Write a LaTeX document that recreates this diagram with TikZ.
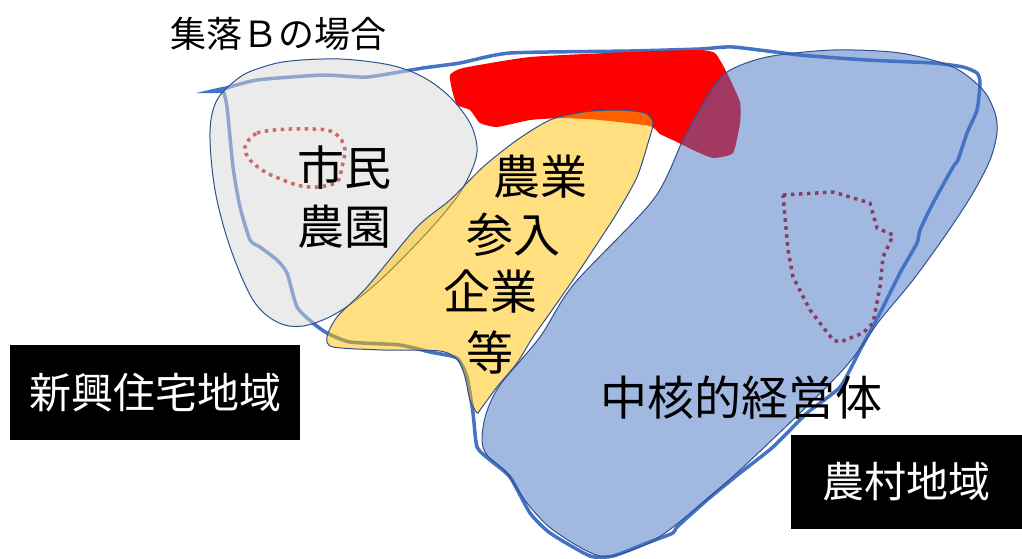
\documentclass[tikz,border=0pt]{standalone}
\usepackage{fontspec}
\newfontfamily\jp{Noto Sans CJK JP}
\definecolor{lineblue}{HTML}{4472C4}
\definecolor{edgeblue}{HTML}{2F528F}
\definecolor{grayfill}{HTML}{D9D9D9}
\definecolor{yelfill}{HTML}{FFC000}
\definecolor{dotred}{HTML}{D06868}
\definecolor{dotmaroon}{HTML}{8B3B62}
\tikzset{
  outline/.style={draw=lineblue, line width=3.5pt, line join=round, line cap=round},
  region/.style={draw=edgeblue, line width=1pt, fill opacity=0.5},
  biglabel/.style={font=\jp\fontsize{47}{56}\selectfont, inner sep=0pt, text=black},
  titlelabel/.style={font=\jp\fontsize{36}{44}\selectfont, inner sep=0pt, text=black},
  blackbox/.style={fill=black, text=white, font=\jp\fontsize{42}{50}\selectfont, inner sep=0pt},
  dotline/.style={line width=3.5pt, dash pattern=on 3.5pt off 4.5pt, line join=round}
}
\begin{document}
\begin{tikzpicture}[x=1pt,y=-1pt]
\useasboundingbox (0,0) rectangle (1022,558);
\fill[white] (0,0) rectangle (1022,558);

% thick hand-drawn outline of the village area
\fill[lineblue] (196,93) -- (224,86.5) -- (224,93) -- cycle;
\draw[outline] plot[smooth, tension=0.35] coordinates {
 (223,89) (257,80) (323,75) (367,77) (423,68) (460,63) (510,53) (630,51) (700,49)
 (733,47) (800,55) (867,60) (933,63) (963,67) (977,73) (980,83) (977,110) (967,133)
 (958,160) (953,167) (933,203) (920,230) (917,243) (900,273) (880,313) (860,350)
 (840,387) (807,413) (773,447) (740,473) (707,500) (677,527) (673,533) (647,543)
 (613,556) (590,556) (550,533) (530,513) (510,477) (490,460) (477,447) (473,413)
 (467,377) (457,358) (430,352) (400,345) (350,342) (327,333) (313,323) (297,307)
 (287,273) (277,260) (260,247) (250,240) (240,207) (233,167) (227,107) (223,89)};

% red band
\fill[red] plot[smooth cycle, tension=0.3] coordinates {
 (463,68) (530,57) (630,52) (697,50) (715,53) (727,73) (740,102) (740,123) (733,153)
 (713,158) (693,150) (677,142) (660,134) (650,126) (600,120) (563,118) (530,120)
 (497,127) (480,123) (470,110) (457,105) (452,90) (450,75)};

% citizen farm region
\path[region, fill=grayfill] plot[smooth cycle, tension=0.55] coordinates {
 (290,61) (340,59) (390,65) (423,77) (450,97) (470,123) (477,147) (473,167) (457,197)
 (423,237) (377,283) (337,313) (303,326) (277,322) (253,300) (230,247) (215,190)
 (210,133) (217,100) (240,77) (263,67)};

% entering companies region
\path[region, fill=yelfill] plot[smooth cycle, tension=0.45] coordinates {
 (645,113) (653,123) (648,143) (637,177) (617,213) (593,250) (573,280) (550,313)
 (533,337) (517,363) (497,387) (480,410) (477,413) (470,400) (465,377) (458,360)
 (440,351) (383,350) (333,347) (327,337) (337,317) (367,287) (417,227) (450,200)
 (483,167) (517,140) (550,120) (583,112) (617,110)};

% core farm region
\path[region, fill=lineblue] plot[smooth cycle, tension=0.5] coordinates {
 (482,440) (486,414) (500,385) (540,337) (574,284) (653,200) (683,140) (707,97)
 (727,72) (767,57) (833,50) (900,53) (953,67) (983,90) (995,113) (997,133)
 (990,160) (973,193) (947,233) (913,280) (880,320) (840,373) (740,470) (673,527)
 (640,547) (600,556) (553,530) (527,503) (507,473) (487,455)};

% dotted outlines
\draw[dotline, draw=dotred] plot[smooth cycle, tension=0.5] coordinates {
 (245,147) (257,133) (290,129) (327,130) (340,138) (345,150) (342,167) (337,182)
 (317,187) (297,185) (267,173) (250,160)};
\draw[dotline, draw=dotmaroon] (783,195) -- (833,192) -- (840,194) -- (870,203)
 -- (877,228) -- (893,235) -- (890,242) -- (883,257) -- (880,287) -- (873,323)
 -- (863,333) -- (840,342) -- (833,340) -- (810,310) -- (793,277) -- (788,250)
 -- (785,217) -- cycle;

% labels
\node[titlelabel] (title) at (278,34) {集落Ｂの場合};
\node[biglabel] (cf1) at (344,168) {市民};
\node[biglabel] (cf2) at (344,227) {農園};
\node[biglabel] (ag1) at (540,177) {農業};
\node[biglabel] (ag2) at (513,235) {参入};
\node[biglabel] (ag3) at (490,292) {企業};
\node[biglabel] (ag4) at (490,352) {等};
\node[biglabel] (core) at (741,398) {中核的経営体};

\node[blackbox, minimum width=290pt, minimum height=95pt] (suburb) at (155,392.5) {新興住宅地域};
\node[blackbox, minimum width=231pt, minimum height=94pt] (rural) at (906.5,482) {農村地域};
\end{tikzpicture}
\end{document}
